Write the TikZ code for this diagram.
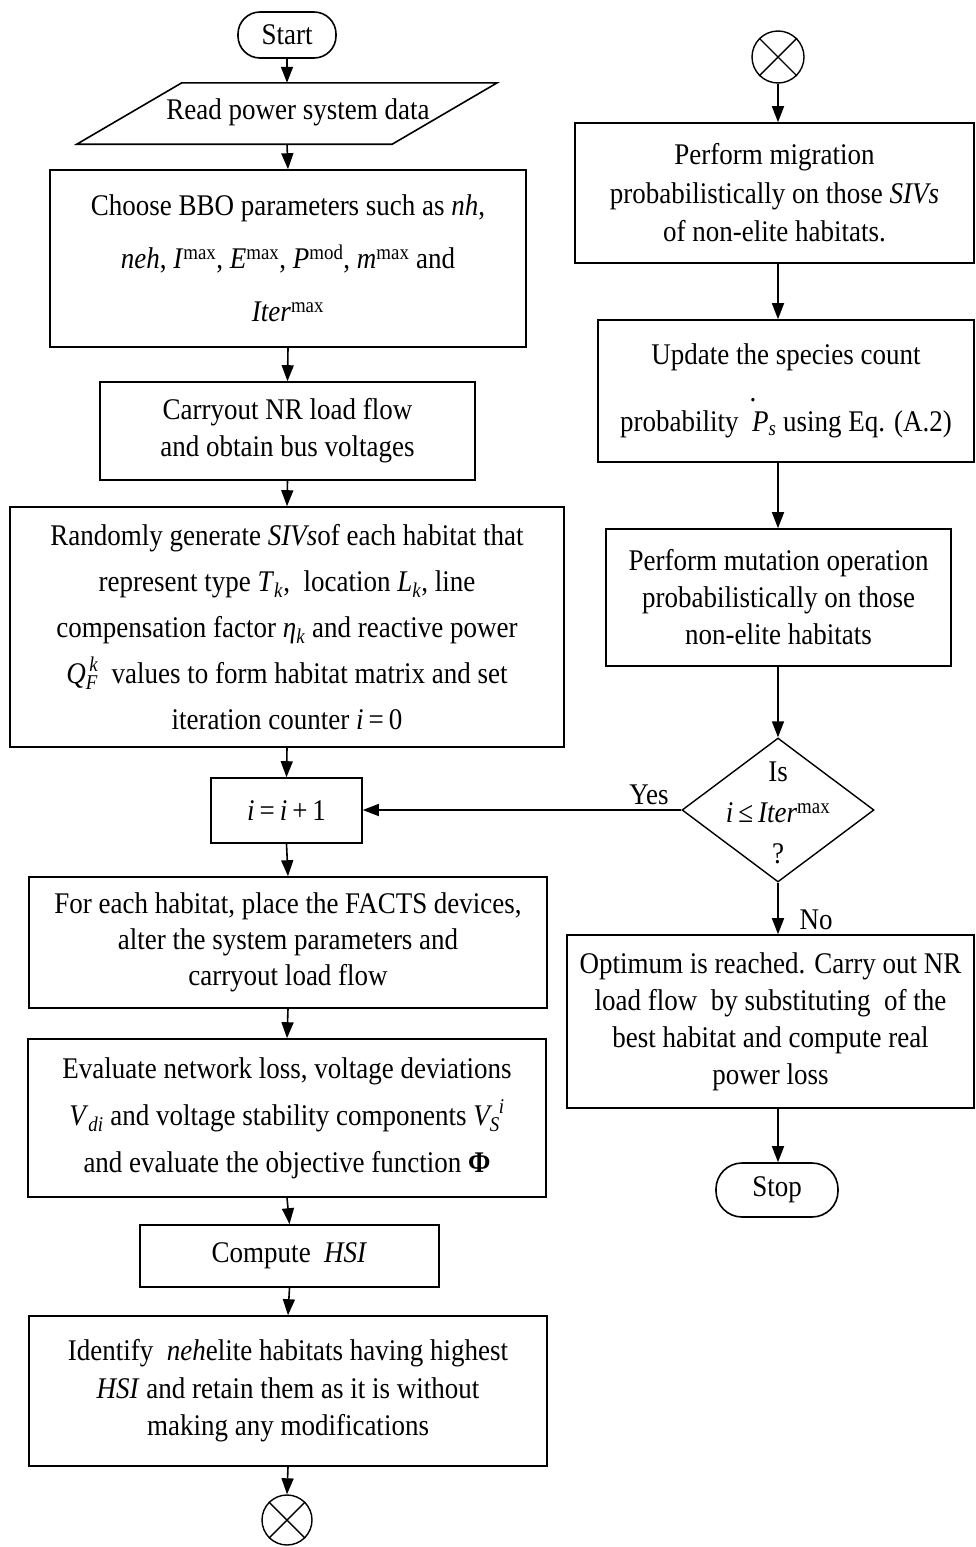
\documentclass[tikz,border=0pt]{standalone}
\usepackage{amsmath}
\usepackage{fontspec}
\setmainfont{Liberation Serif}[FakeStretch=0.9]
\usetikzlibrary{arrows.meta,calc,shapes.geometric}
\newcommand{\dotP}{\rlap{\hspace{-0.08em}\raisebox{1.0em}{.}}\textit{P}}
\newcommand{\fsz}[1]{\fontsize{30}{#1}\selectfont}
\tikzset{
  every node/.style={font=\fsz{37}, inner sep=0pt},
  box/.style={draw, line width=1.6pt, align=center},
  sz/.style 2 args={minimum width=#1pt, minimum height=#2pt},
  conn/.style={line width=1.6pt, -{Triangle[length=16pt,width=12pt]}},
  edge/.style={line width=1.6pt},
}
\begin{document}
\begin{tikzpicture}[x=1pt,y=-1pt]
\useasboundingbox (0,0) rectangle (976,1547);
% left column
\node[box, rounded corners=22pt, sz={98}{46}] (start) at (287,35) {Start};
\node[sz={420}{61}] (read) at (287,113.5) {};
\draw[edge] ($(read.north west)+(105,0)$) -- (read.north east) -- ($(read.south east)+(-105,0)$) -- (read.south west) -- cycle;
\node (readtxt) at (298,112) {Read power system data};
\node[box, sz={476}{177}, font=\fsz{53}] (bbo) at (288,258.5) {Choose BBO parameters such as \textit{nh},\\
\textit{neh}, \textit{I}\textsuperscript{max}, \textit{E}\textsuperscript{max}, \textit{P}\textsuperscript{mod}, \textit{m}\textsuperscript{max} and\\
\textit{Iter}\textsuperscript{max}};
\node[box, sz={375}{98}] (nr) at (287.5,431) {Carryout NR load flow\\ and obtain bus voltages};
\node[box, sz={554}{240}, font=\fsz{46}] (rand) at (287,627) {Randomly generate \textit{SIVs}of each habitat that\\
represent type \textit{T}\textsubscript{\textit{k}},\ \ location \textit{L}\textsubscript{\textit{k}}, line\\
compensation factor \textit{η}\textsubscript{\textit{k}} and reactive power\\
$\textit{Q}_{\textit{F}}^{\,\textit{k}}$\ \ values to form habitat matrix and set\\
iteration counter \textit{i}\,=\,0};
\node[box, sz={151}{65}] (inc) at (286.5,810.5) {\textit{i}\,=\,\textit{i}\,+\,1};
\node[box, sz={518}{131}, font=\fsz{36}] (facts) at (288,942.5) {For each habitat, place the FACTS devices,\\
alter the system parameters and\\ carryout load flow};
\node[box, sz={518}{158}, font=\fsz{47}] (eval) at (287,1118) {Evaluate network loss, voltage deviations\\
\textit{V}\textsubscript{\textit{di}} and voltage stability components $\textit{V}_{\textit{S}}^{\hspace{0.3em}\textit{i}}$\\
and evaluate the objective function \textbf{Φ}};
\node[box, sz={299}{62}] (hsi) at (289.5,1256) {Compute\ \ \textit{HSI}};
\node[box, sz={518}{150}, font=\fsz{37.5}] (ident) at (288,1391) {Identify\ \ \textit{neh}elite habitats having highest\\
\textit{HSI} and retain them as it is without\\ making any modifications};
\node[draw, circle, line width=1.4pt, minimum size=50pt] (cb) at (287,1520) {};
\draw[line width=1.4pt] (cb.north west) -- (cb.south east) (cb.north east) -- (cb.south west);
% right column
\node[draw, circle, line width=1.4pt, minimum size=52pt] (ct) at (778,57) {};
\draw[line width=1.4pt] (ct.north west) -- (ct.south east) (ct.north east) -- (ct.south west);
\node[box, sz={399}{140}, font=\fsz{38.5}] (mig) at (774.5,193) {Perform migration\\
probabilistically on those \textit{SIVs}\\ of non-elite habitats.};
\node[box, sz={376}{142}, font=\fsz{67}] (upd) at (786,391) {Update the species count\\
probability\ \ \dotP\textsubscript{\textit{s}} using Eq. (A.2)};
\node[box, sz={345}{137}] (mut) at (778.5,597.5) {Perform mutation operation\\
probabilistically on those\\ non-elite habitats};
\node[draw, diamond, line width=1.4pt, sz={192}{144}] (dec) at (778,810) {};
\node[align=center, font=\fsz{41}] (dectxt) at (778,813) {Is\\ \textit{i}\,≤\,\textit{Iter}\textsuperscript{max}\\ ?};
\node[box, sz={407}{173}] (opt) at (770.5,1021.5) {Optimum is reached. Carry out NR\\
load flow\ \ by substituting\ \ of the\\ best habitat and compute real\\ power loss};
\node[box, rounded corners=26pt, sz={122}{54}] (stop) at (777,1190) {Stop};
\node (yes) at (649,795) {Yes};
\node (no) at (816,920) {No};
% connectors
\draw[conn] (start.south) -- (read.north);
\draw[conn] (read.south) -- (bbo.north);
\draw[conn] (bbo.south) -- (nr.north);
\draw[conn] (nr.south) -- (rand.north);
\draw[conn] (rand.south) -- (inc.north);
\draw[conn] (inc.south) -- (facts.north);
\draw[conn] (facts.south) -- (eval.north);
\draw[conn] (eval.south) -- (hsi.north);
\draw[conn] (hsi.south) -- (ident.north);
\draw[conn] (ident.south) -- (cb.north);
\draw[conn] (ct.south) -- (ct.south |- mig.north);
\draw[conn] (ct.south |- mig.south) -- (ct.south |- upd.north);
\draw[conn] (ct.south |- upd.south) -- (ct.south |- mut.north);
\draw[conn] (ct.south |- mut.south) -- (dec.north);
\draw[conn] (dec.south) -- (dec.south |- opt.north);
\draw[conn] (dec.south |- opt.south) -- (dec.south |- stop.north);
\draw[conn] (dec.west) -- (dec.west -| inc.east);
\end{tikzpicture}
\end{document}
